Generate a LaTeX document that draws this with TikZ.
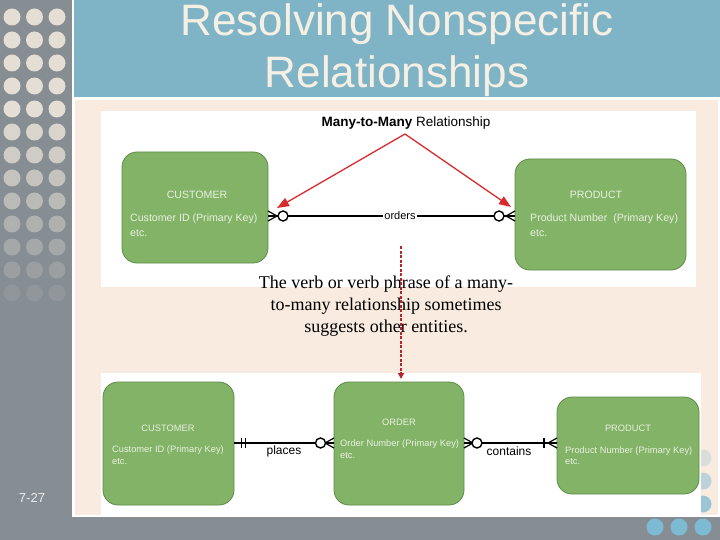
\documentclass[tikz,border=0pt]{standalone}
\usepackage{fontspec}
\setmainfont{Liberation Sans}
\newfontfamily\seriffam{Liberation Serif}
\usetikzlibrary{arrows.meta}
\definecolor{side}{HTML}{868E93}
\definecolor{titlebg}{HTML}{7FB4C6}
\definecolor{beige}{HTML}{F9EBDF}
\definecolor{dotc}{HTML}{E4DED4}
\definecolor{titletxt}{HTML}{F6F0E4}
\definecolor{egreen}{HTML}{82B366}
\definecolor{eborder}{HTML}{5E8C49}
\definecolor{etxt}{HTML}{E9F1E2}
\definecolor{ared}{HTML}{DA2A2C}
\definecolor{dred}{HTML}{B8252A}
\definecolor{bdot}{HTML}{7DBAD3}
\tikzset{
  ent/.style={draw=eborder, fill=egreen, rounded corners=15pt, line width=0.8pt, inner sep=0pt},
  etitleA/.style={text=etxt, inner sep=0pt, font=\fontsize{10.6}{12}\selectfont},
  etextA/.style={text=etxt, inner sep=0pt, anchor=west, font=\fontsize{10.6}{12}\selectfont},
  etitleB/.style={text=etxt, inner sep=0pt, font=\fontsize{9.3}{11}\selectfont},
  etextB/.style={text=etxt, inner sep=0pt, anchor=west, font=\fontsize{9.3}{11}\selectfont},
  er/.style={draw=black, line width=1.2pt},
  circ/.style={circle, draw=black, fill=white, line width=1.4pt, minimum size=10pt, inner sep=0pt},
  redarrow/.style={draw=ared, line width=1.3pt, -{Triangle[length=12pt,width=9pt]}},
  crow/.pic={\draw[er] (0,-5) -- (9,0) -- (0,5) (0,0) -- (9,0);},
  titletext/.style={text=titletxt, anchor=base, inner sep=0pt, font=\fontsize{44}{52}\selectfont},
  rellabel/.style={text=black, inner sep=1pt, font=\fontsize{12}{14}\selectfont}
}
\begin{document}
\begin{tikzpicture}[x=1pt,y=-1pt]
\useasboundingbox (0,0) rectangle (720,540);
% background
\fill[white] (0,0) rectangle (720,540);
\fill[side] (0,0) rectangle (71.5,540);
\fill[side] (0,517) rectangle (720,540);
\fill[titlebg] (73.5,0) rectangle (720,97);
\fill[beige] (75,100) rectangle (718,515);
% left dots
\foreach \r in {0,...,12}{
  \pgfmathsetmacro\op{min(1,(13-\r)/9)}
  \foreach \c in {12,34.5,57}{
    \fill[dotc, opacity=\op] (\c,17+23*\r) circle (8.5);
  }
}
% right blue dots
\fill[bdot, opacity=0.25] (703,458) circle (8.5);
\fill[bdot, opacity=0.5] (703,481) circle (8.5);
\fill[bdot, opacity=0.75] (703,504) circle (8.5);
\foreach \c in {655,679,703}{ \fill[bdot] (\c,527) circle (8.5); }
% title
\node[titletext] (t1) at (397,36) {Resolving Nonspecific};
\node[titletext] (t2) at (397,88) {Relationships};
% slide number
\node[text=white!92!black, inner sep=0pt, font=\fontsize{13}{15}\selectfont] (num) at (32,498) {7-27};
% picture panels
\fill[white] (101,111) rectangle (696,287);
\fill[white] (101,373) rectangle (701,515);

% ---------- top diagram ----------
\node[ent, minimum width=146pt, minimum height=111pt] (c1) at (195,207.5) {};
\node[ent, minimum width=171pt, minimum height=111pt] (p1) at (600.5,214.5) {};
\node[etitleA] (c1t) at (197,195) {CUSTOMER};
\node[etextA] (c1a) at (130,219) {Customer ID (Primary Key)};
\node[etextA] (c1b) at (130,233) {etc.};
\node[etitleA] (p1t) at (596,195) {PRODUCT};
\node[etextA] (p1a) at (530,219) {Product Number\ \ (Primary Key)};
\node[etextA] (p1b) at (530,233) {etc.};
\draw[er] (c1.east |- 0,216) -- (p1.west |- 0,216);
\pic at (268,216) {crow};
\pic[xscale=-1] at (515,216) {crow};
\node[circ] (o1) at (283,216) {};
\node[circ] (o2) at (499,216) {};
\node[fill=white, inner sep=1pt, font=\fontsize{11}{13}\selectfont] (ord) at (400,216) {orders};
\node[inner sep=0pt, font=\fontsize{13.5}{15}\selectfont] (mtm) at (406,123) {\textbf{Many-to-Many} Relationship};
\coordinate (apex) at (405,134);
\coordinate (tipL) at (277,208);
\coordinate (tipR) at (511,207);
\draw[redarrow] (apex) -- (tipL);
\draw[redarrow] (apex) -- (tipR);

% ---------- text ----------
\node[align=center, inner sep=0pt, font=\seriffam\fontsize{18}{22}\selectfont] (para) at (386,306)
  {The verb or verb phrase of a many-\\to-many relationship sometimes\\suggests other entities.};
\coordinate (dtop) at (401,246);
\coordinate (dbot) at (401,379);
\draw[draw=dred, line width=1.6pt, dash pattern=on 3pt off 1.5pt, -{Triangle[length=6pt,width=6pt]}] (dtop) -- (dbot);

% ---------- bottom diagram ----------
\node[ent, minimum width=131pt, minimum height=123pt] (c2) at (168.5,443.5) {};
\node[ent, minimum width=130pt, minimum height=123pt] (r2) at (399,443.5) {};
\node[ent, minimum width=142pt, minimum height=97pt] (p2) at (628,445.5) {};
\node[etitleB] (c2t) at (168,428) {CUSTOMER};
\node[etextB] (c2a) at (112,450) {Customer ID (Primary Key)};
\node[etextB] (c2b) at (112,462) {etc.};
\node[etitleB] (r2t) at (399,422) {ORDER};
\node[etextB] (r2a) at (340,444) {Order Number (Primary Key)};
\node[etextB] (r2b) at (340,456) {etc.};
\node[etitleB] (p2t) at (628,428) {PRODUCT};
\node[etextB] (p2a) at (565,451) {Product Number (Primary Key)};
\node[etextB] (p2b) at (565,462) {etc.};
% places
\draw[er] (c2.east |- 0,443) -- (r2.west |- 0,443);
\draw[er] (241.5,438) -- (241.5,448) (245.5,438) -- (245.5,448);
\pic[xscale=-1] at (334,443) {crow};
\node[circ] (o3) at (320.5,443) {};
\node[rellabel] (pl) at (284,451) {places};
% contains
\draw[er] (r2.east |- 0,443) -- (p2.west |- 0,443);
\pic at (464,443) {crow};
\node[circ] (o4) at (477,443) {};
\draw[er] (544,438) -- (544,448);
\pic[xscale=-1] at (557,443) {crow};
\node[rellabel] (ct) at (509,451) {contains};
\end{tikzpicture}
\end{document}
